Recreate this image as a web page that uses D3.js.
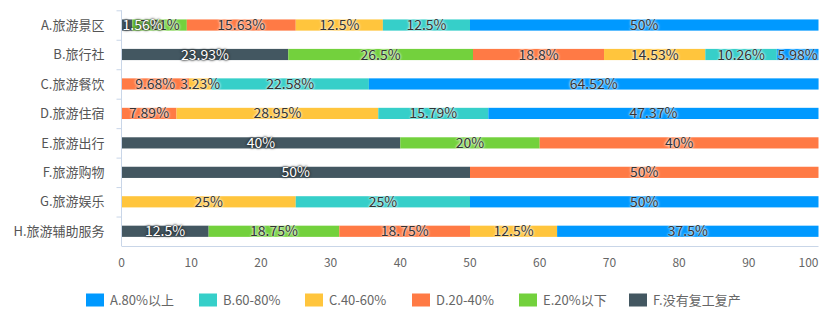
<!DOCTYPE html>
<html><head><meta charset="utf-8">
<script src="https://cdn.jsdelivr.net/npm/d3@7/dist/d3.min.js"></script>
<style>
body{margin:0;background:#fff;}
text{font-family:"Noto Sans CJK SC","Noto Sans",sans-serif;}
</style></head>
<body><svg id="c" width="831" height="333"></svg>
<script>
const categories = ["A.旅游景区","B.旅行社","C.旅游餐饮","D.旅游住宿","E.旅游出行","F.旅游购物","G.旅游娱乐","H.旅游辅助服务"];
const seriesNames = ["A.80%以上","B.60-80%","C.40-60%","D.20-40%","E.20%以下","F.没有复工复产"];
const seriesColors = ["#0099ff","#36cfc9","#ffc53d","#ff7a45","#73d13d","#435761"];
// values per series, per category
const serA = [50, 5.98, 64.52, 47.37, 0, 0, 50, 37.5];
const serB = [12.5, 10.26, 22.58, 15.79, 0, 0, 25, 0];
const serC = [12.5, 14.53, 3.23, 28.95, 0, 0, 25, 12.5];
const serD = [15.63, 18.8, 9.68, 7.89, 40, 50, 0, 18.75];
const serE = [7.81, 26.5, 0, 0, 20, 0, 0, 18.75];
const serF = [1.56, 23.93, 0, 0, 40, 50, 0, 12.5];
const xTicks = [0,10,20,30,40,50,60,70,80,90,100];

const allSeries = [serA, serB, serC, serD, serE, serF];
// stack order: F first (left) then E, D, C, B, A
const stackOrder = [5,4,3,2,1,0];

const svg = d3.select("#c");
const m = {l:121.5, r:12.5, t:10.3, b:87};
const W = 831, H = 333;
const x = d3.scaleLinear().domain([0,100]).range([m.l, W - m.r]);
const y = d3.scaleBand().domain(categories).range([m.t, 246]).paddingInner(0.62).paddingOuter(0.31);
const yb = d3.scaleBand().domain(categories).range([m.t, 246]);

const axisColor = "#c9d6e8";

// bars
const g = svg.append("g");
const labels = [];
categories.forEach((cat, ci) => {
  let acc = 0;
  stackOrder.forEach(si => {
    const v = allSeries[si][ci];
    if (!v) return;
    const x0 = x(acc), x1 = x(acc + v);
    g.append("rect").attr("x", x0).attr("y", y(cat)).attr("width", x1 - x0).attr("height", y.bandwidth()).attr("fill", seriesColors[si]);
    labels.push({cat, si, v, mid: acc + v/2});
    acc += v;
  });
});
// labels: dark-series labels drawn last (on top)
labels.sort((a,b) => (a.si === 5) - (b.si === 5));
labels.forEach(d => {
  const isDark = d.si === 5;
  const t = g.append("text").attr("x", x(d.mid)).attr("y", y(d.cat) + y.bandwidth()/2).attr("dy","0.36em")
    .attr("text-anchor","middle").attr("font-size", 14)
    .attr("fill", isDark ? "#fff" : "#333")
    .style("text-shadow", isDark ? "0 0 3px #222, 0 0 2px #222" : "0 0 3px #fff, 0 0 2px #fff")
    .text(d.v + "%");
  const w = t.node().getComputedTextLength();
  if (x(d.mid) - w/2 < x(0) + 1) t.attr("text-anchor","start").attr("x", x(0) + 1);
});

// y axis
const ya = svg.append("g");
ya.append("line").attr("x1", m.l).attr("x2", m.l).attr("y1", m.t).attr("y2", 246).attr("stroke", axisColor);
categories.forEach(c => ya.append("line").attr("x1", m.l - 5).attr("x2", m.l).attr("y1", yb(c) + 0.5).attr("y2", yb(c) + 0.5).attr("stroke", axisColor));
categories.forEach(c => ya.append("text").attr("x", m.l - 17).attr("y", yb(c) + yb.bandwidth()/2).attr("dy","0.36em")
  .attr("text-anchor","end").attr("font-size", 13).attr("fill","#555").text(c));

// x axis
const xa = svg.append("g");
xa.append("line").attr("x1", m.l).attr("x2", W - m.r).attr("y1", 246.5).attr("y2", 246.5).attr("stroke", axisColor);
xTicks.forEach((t,i) => xa.append("text").attr("x", x(t)).attr("y", 263).attr("dy","0.36em")
  .attr("text-anchor", i === xTicks.length-1 ? "end" : "middle").attr("font-size", 12).attr("fill","#666").text(t));

// legend
const legendX = [86, 199, 305, 412, 519, 629];
const lg = svg.append("g");
seriesNames.forEach((n, i) => {
  lg.append("rect").attr("x", legendX[i]).attr("y", 293.5).attr("width", 18).attr("height", 13).attr("fill", seriesColors[i]);
  lg.append("text").attr("x", legendX[i] + 24).attr("y", 300).attr("dy","0.36em").attr("font-size", 13).attr("fill","#666").text(n);
});
</script></body></html>
